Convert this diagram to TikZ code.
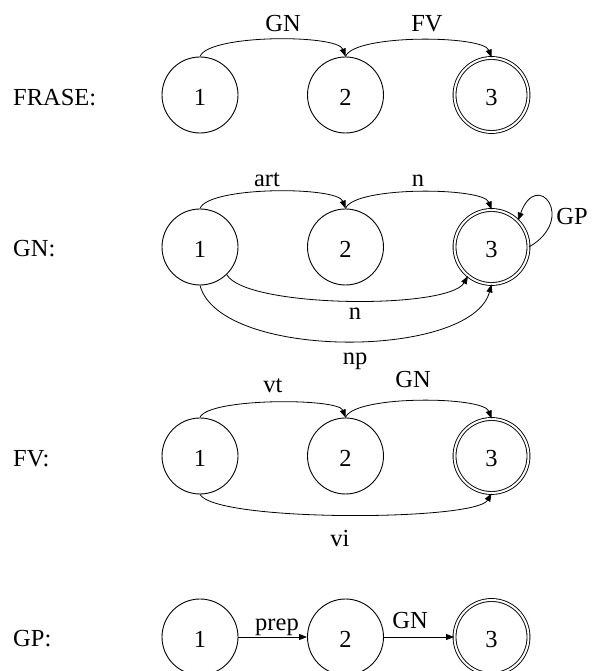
\documentclass[tikz,border=0pt]{standalone}
\usepackage{fontspec}
\setmainfont{Liberation Serif}
\usetikzlibrary{arrows.meta}

\begin{document}
\begin{tikzpicture}[x=1pt,y=1pt,font=\fontsize{24.5}{29}\selectfont]
\tikzset{
% Two node styles for the automata: plain state and final state
state node/.style={circle,draw,line width=0.9pt,minimum size=76pt,inner sep=0,text height=21pt,text depth=0pt},
final node/.style={state node,minimum size=74pt,double,double distance=2pt},
arc/.style={line width=0.8pt,-{Triangle[length=8pt,width=6pt]}},
tag/.style={anchor=base,inner sep=0}
}
\useasboundingbox (0,0) rectangle (591,671);

% FRASE
\node[tag,anchor=base west] (frase) at (13,565) {FRASE:};
\node[state node] (f1) at (200,576) {1};
\node[state node] (f2) at (345.5,576) {2};
\node[final node] (f3) at (491.5,576) {3};
\draw[arc] (f1.north) to[out=70,in=110,looseness=0.42] (f2.north);
\draw[arc] (f2.north) to[out=70,in=110,looseness=0.42] (f3.north);
\node[tag] (f12) at (283,639) {GN};
\node[tag] (f23) at (427,639) {FV};

% GN
\node[tag,anchor=base west] (gn) at (13,414) {GN:};
\node[state node] (g1) at (200,424) {1};
\node[state node] (g2) at (345.5,424) {2};
\node[final node] (g3) at (491.5,424) {3};
\draw[arc] (g1.north) to[out=70,in=110,looseness=0.42] (g2.north);
\draw[arc] (g2.north) to[out=70,in=110,looseness=0.42] (g3.north);
\draw[arc] (g1.-46) to[out=-60,in=-120,looseness=0.41] (g3.-129);
\draw[arc] (g1.south) to[out=-75,in=-105,looseness=0.68] (g3.south);
\draw[arc] (g3.east) to[out=30,in=70,looseness=5] (g3.45);
\node[tag] (g12) at (267,484) {art};
\node[tag] (g23) at (418,484) {n};
\node[tag] (g13) at (355,351) {n};
\node[tag] (g13p) at (355,306) {np};
\node[tag] (g33) at (572,446) {GP};

% FV
\node[tag,anchor=base west] (fv) at (13,204) {FV:};
\node[state node] (v1) at (200,215) {1};
\node[state node] (v2) at (345.5,215) {2};
\node[final node] (v3) at (491.5,215) {3};
\draw[arc] (v1.north) to[out=70,in=110,looseness=0.37] (v2.north);
\draw[arc] (v2.north) to[out=70,in=110,looseness=0.42] (v3.north);
\draw[arc] (v1.south) to[out=-60,in=-120,looseness=0.28] (v3.south);
\node[tag] (v12) at (273,278) {vt};
\node[tag] (v23) at (413,283) {GN};
\node[tag] (v13) at (340,124) {vi};

% GP
\node[tag,anchor=base west] (gp) at (13,24) {GP:};
\node[state node] (p1) at (200,34) {1};
\node[state node] (p2) at (345.5,34) {2};
\node[final node] (p3) at (491.5,34) {3};
\draw[arc] (p1) -- (p2);
\draw[arc] (p2) -- (p3);
\node[tag] (p12) at (277,40) {prep};
\node[tag] (p23) at (410,42) {GN};
\end{tikzpicture}
\end{document}
